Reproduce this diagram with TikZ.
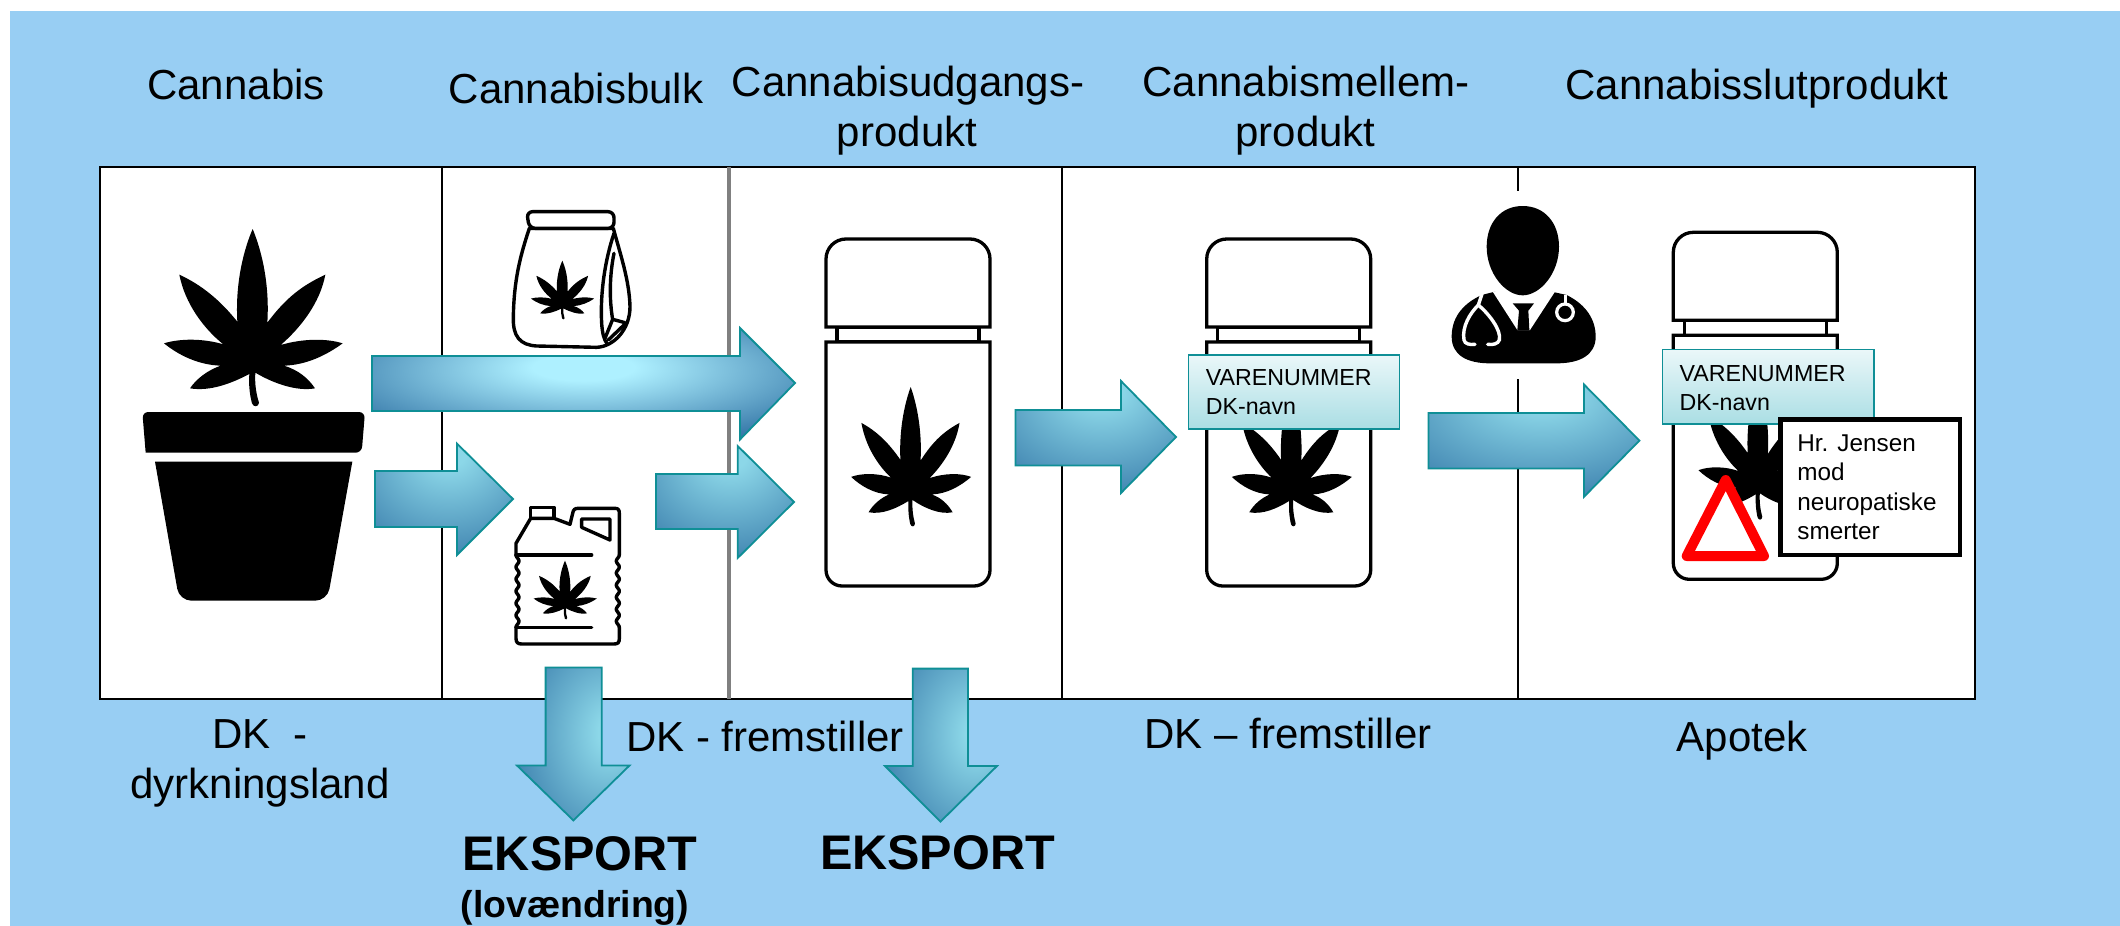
\documentclass[tikz,border=0pt]{standalone}
\usepackage{fontspec}
\setmainfont{Liberation Sans}
\definecolor{bgblue}{RGB}{152,206,243}
\definecolor{edgeteal}{RGB}{15,143,150}
\definecolor{glowdark}{RGB}{42,108,160}
\definecolor{glowlight}{RGB}{174,240,255}
\definecolor{glowmid}{RGB}{140,215,232}
\definecolor{labeltop}{RGB}{234,247,249}
\definecolor{labelbot}{RGB}{170,222,228}
\pgfdeclareradialshading{glowA}{\pgfpoint{0bp}{8bp}}{color(0bp)=(glowlight);color(6bp)=(glowlight);color(36bp)=(glowdark);color(80bp)=(glowdark)}
\pgfdeclareradialshading{glowB}{\pgfpoint{2bp}{22bp}}{color(0bp)=(glowmid);color(6bp)=(glowmid);color(50bp)=(glowdark);color(100bp)=(glowdark)}
\pgfdeclareradialshading{glowC}{\pgfpoint{18bp}{4bp}}{color(0bp)=(glowmid);color(6bp)=(glowmid);color(48bp)=(glowdark);color(100bp)=(glowdark)}
\tikzset{
  x=0.5pt,y=-0.5pt,
  headtext/.style={anchor=base,inner sep=0pt,align=center,font=\fontsize{21pt}{25pt}\selectfont},
  exporttext/.style={anchor=base,inner sep=0pt,font=\fontsize{24.3pt}{29pt}\selectfont\bfseries},
  labelbox/.style={draw=edgeteal,line width=0.6pt,top color=labeltop,bottom color=labelbot},
  smalltext/.style={anchor=base west,inner sep=0pt},
  blockarrow/.style={draw=edgeteal,line width=0.9pt,shade},
  bottleline/.style={draw=black,line width=1.65pt,fill=white},
  inkline/.style={draw=black,line width=1.7pt,line join=round,line cap=round},
  leaf/.pic={
    \begin{scope}[shift={(-458,-440)}]
    \fill[black] (458,87) .. controls (480,140) and (510,240) .. (502,368)
      .. controls (560,290) and (610,255) .. (676,224)
      .. controls (660,310) and (600,385) .. (542,435)
      .. controls (610,415) and (680,415) .. (728,430)
      .. controls (680,465) and (620,495) .. (552,497)
      .. controls (595,510) and (625,535) .. (645,565)
      .. controls (590,575) and (520,550) .. (466,518)
      .. controls (464,550) and (468,580) .. (477,608)
      .. controls (476,622) and (460,622) .. (456,610)
      .. controls (448,580) and (446,550) .. (448,522)
      .. controls (395,550) and (330,575) .. (270,565)
      .. controls (290,535) and (325,510) .. (362,497)
      .. controls (295,495) and (235,465) .. (192,430)
      .. controls (240,415) and (310,415) .. (370,433)
      .. controls (310,385) and (255,310) .. (238,224)
      .. controls (305,255) and (360,300) .. (412,365)
      .. controls (405,240) and (435,140) .. (458,87) -- cycle;
    \end{scope}
  },
  bottle/.pic={
    \path[bottleline] (11,88) rectangle (153,103);
    \path[bottleline] (0,103) [rounded corners=8pt] -- (0,347) -- (164,347) [sharp corners] -- (164,103) -- cycle;
    \path[bottleline] (0,88) [rounded corners=10pt] -- (0,0) -- (164,0) [sharp corners] -- (164,88) -- cycle;
  }
}
\begin{document}
\begin{tikzpicture}
\useasboundingbox (0,0) rectangle (2120,926);
\fill[white] (0,0) rectangle (2120,926);
\fill[bgblue] (10,11) rectangle (2120,926);

% frame
\path[draw=black,fill=white,line width=1.25pt] (100,167) rectangle (1975,699);
\draw[black,line width=1pt] (441.5,167) -- (441.5,699);
\draw[black!50,line width=1.8pt] (729,167) -- (729,699);
\draw[black,line width=1pt] (1062,167) -- (1062,699);
\draw[black,line width=1pt] (1518,167) -- (1518,191);
\draw[black,line width=1pt] (1518,379) -- (1518,699);

% pot with plant
\begin{scope}[shift={(100,200)},scale=1/3]
  \pic[transform shape] at (458,440) {leaf};
  \fill[black,rounded corners=3pt] (137,758) -- (127,636) -- (795,636) -- (785,758) [sharp corners] -- cycle;
  \fill[black] (165,785) [rounded corners=6pt] -- (238,1202) -- (682,1202) [sharp corners] -- (757,785) -- cycle;
\end{scope}

% bag
\begin{scope}[shift={(490,190)},scale=1/3]
  \path[inkline,fill=white] (118,115) .. controls (90,200) and (72,270) .. (70,380)
    .. controls (68,440) and (90,465) .. (140,468)
    -- (320,472) .. controls (370,470) and (420,420) .. (420,350)
    .. controls (418,270) and (390,190) .. (370,115) -- cycle;
  \path[inkline,fill=white,rounded corners=3pt] (110,65) -- (372,65) -- (372,115) -- (118,115) -- cycle;
  \draw[inkline] (372,130) .. controls (345,210) and (330,310) .. (335,400) .. controls (337,430) and (342,450) .. (352,462);
  \draw[inkline] (372,190) .. controls (358,260) and (358,330) .. (368,388) -- (405,398);
  \draw[inkline] (368,388) -- (345,445);
  \draw[inkline] (402,405) -- (355,450);
  \pic[transform shape,xscale=.354,yscale=.331] at (217,329) {leaf};
\end{scope}

% jerrycan
\begin{scope}[shift={(490,190)},scale=1/3]
  \draw[inkline] (122,985) -- (122,952) -- (192,952) -- (192,985);
  \draw[inkline] (78,1095) -- (78,1060) -- (122,985) -- (192,985) -- (240,1003) -- (248,970) .. controls (250,958) and (255,955) .. (265,955)
    -- (375,955) .. controls (385,955) and (388,960) .. (388,970) -- (388,1095);
  \draw[inkline] plot[domain=0:217,samples=70] ({78+9*sin(\x*1.66*3)^2},{1095+\x});
  \draw[inkline] plot[domain=0:217,samples=70] ({388-9*sin(\x*1.66*3)^2},{1095+\x});
  \draw[inkline] (78,1312) -- (78,1345) .. controls (78,1358) and (84,1362) .. (95,1362) -- (372,1362) .. controls (384,1362) and (388,1358) .. (388,1345) -- (388,1312);
  \draw[inkline] (78,1095) -- (305,1095);
  \draw[inkline] (78,1312) -- (305,1312);
  \draw[inkline] (275,987) -- (360,987) -- (360,1050) -- (275,1012) -- cycle;
  \pic[transform shape,xscale=.354,yscale=.331] at (225,1229) {leaf};
\end{scope}

% doctor
\begin{scope}[shift={(1420,190)},scale=1/3]
  \fill[black] (185,315) .. controls (120,345) and (95,390) .. (95,440)
    .. controls (95,495) and (140,520) .. (210,520) -- (410,520)
    .. controls (480,520) and (527,495) .. (527,440)
    .. controls (527,390) and (500,345) .. (440,315) -- (395,305) -- (225,305) -- cycle;
  \fill[white] (218,305) -- (292,420) -- (330,420) -- (405,305) -- (310,290) -- cycle;
  \fill[black] (278,340) -- (342,340) -- (325,362) -- (328,420) -- (292,420) -- (297,362) -- cycle;
  \fill[black] (308,48) .. controls (375,48) and (417,100) .. (417,170)
    .. controls (417,250) and (360,316) .. (308,316)
    .. controls (256,316) and (200,250) .. (200,170)
    .. controls (200,100) and (241,48) .. (308,48) -- cycle;
  \draw[white,line width=1.7pt,line cap=round] (186,312) -- (175,345)
    .. controls (150,370) and (125,410) .. (132,450) .. controls (134,462) and (150,465) .. (165,463);
  \draw[white,line width=1.7pt,line cap=round] (175,345)
    .. controls (205,370) and (245,420) .. (238,450) .. controls (234,462) and (218,465) .. (203,463);
  \draw[white,line width=1.6pt] (435,367) circle[radius=25];
  \draw[white,line width=1.7pt] (437,342) -- (437,315);
\end{scope}

% bottles
\pic at (826,239) {bottle};
\pic at (1206.7,239) {bottle};
\pic at (1673.3,232.3) {bottle};
\pic[xscale=.224,yscale=.262] at (910.7,479.5) {leaf};
\pic[xscale=.224,yscale=.262] at (1291.4,479.5) {leaf};
\pic[xscale=.224,yscale=.262] at (1758,472.8) {leaf};

% block arrows
\path[blockarrow,shading=glowA] (372,356) -- (740,356) -- (740,328) -- (795,383) -- (740,439.5) -- (740,411) -- (372,411) -- cycle;
\path[blockarrow,shading=glowB] (375,471) -- (457,471) -- (457,443.6) -- (513,499) -- (457,555) -- (457,527) -- (375,527) -- cycle;
\path[blockarrow,shading=glowB] (656,474) -- (737.7,474) -- (737.7,446) -- (794,502) -- (737.7,558) -- (737.7,529) -- (656,529) -- cycle;
\path[blockarrow,shading=glowB] (1015.5,410) -- (1121,410) -- (1121,381) -- (1176,437) -- (1121,493) -- (1121,465.5) -- (1015.5,465.5) -- cycle;
\path[blockarrow,shading=glowB] (1428.5,413) -- (1584,413) -- (1584,384.5) -- (1639.4,440.6) -- (1584,496.8) -- (1584,468.4) -- (1428.5,468.4) -- cycle;
\path[blockarrow,shading=glowC] (545.6,667.5) -- (601.8,667.5) -- (601.8,765.5) -- (629.5,765.5) -- (573.4,820.4) -- (517,765.5) -- (545.6,765.5) -- cycle;
\path[blockarrow,shading=glowC] (912.8,668.6) -- (968,668.6) -- (968,766) -- (997,766) -- (940.5,821.6) -- (885,766) -- (912.8,766) -- cycle;

% label boxes
\path[labelbox] (1188.5,355) rectangle (1399.4,429);
\node[smalltext,font=\fontsize{11.6pt}{14.5pt}\selectfont] (varenr1) at (1205.4,385.7) {VARENUMMER};
\node[smalltext,font=\fontsize{11.6pt}{14.5pt}\selectfont] (dknavn1) at (1205.4,414.6) {DK-navn};
\path[labelbox] (1662.4,349.7) rectangle (1874,424);
\node[smalltext,font=\fontsize{11.6pt}{14.5pt}\selectfont] (varenr2) at (1679.3,381) {VARENUMMER};
\node[smalltext,font=\fontsize{11.6pt}{14.5pt}\selectfont] (dknavn2) at (1679.3,410) {DK-navn};

% warning triangle and patient label
\draw[red,line width=5pt,line join=round,fill=white] (1686.7,556) -- (1725.7,480) -- (1764,556) -- cycle;
\path[draw=black,fill=white,line width=2.4pt] (1780.5,419.5) rectangle (1960,555);
\node[smalltext,font=\fontsize{12.15pt}{14.5pt}\selectfont] (pt1) at (1797,451.7) {Hr. Jensen};
\node[smalltext,font=\fontsize{12.15pt}{14.5pt}\selectfont] (pt2) at (1797,480.5) {mod};
\node[smalltext,font=\fontsize{12.15pt}{14.5pt}\selectfont] (pt3) at (1797,510) {neuropatiske};
\node[smalltext,font=\fontsize{12.15pt}{14.5pt}\selectfont] (pt4) at (1797,539) {smerter};

% headings
\node[headtext] (h1) at (236,99) {Cannabis};
\node[headtext] (h2) at (576,103) {Cannabisbulk};
\node[headtext] (h3a) at (908,96) {Cannabisudgangs-};
\node[headtext] (h3b) at (907,146.5) {produkt};
\node[headtext] (h4a) at (1306,96) {Cannabismellem-};
\node[headtext] (h4b) at (1305.5,146.5) {produkt};
\node[headtext] (h5) at (1757,99) {Cannabisslutprodukt};

% bottom labels
\node[headtext] (b1a) at (260,748) {DK\ \ -};
\node[headtext] (b1b) at (260,798.6) {dyrkningsland};
\node[headtext] (b2) at (765,751) {DK - fremstiller};
\node[headtext] (b3) at (1288,748) {DK – fremstiller};
\node[headtext] (b4) at (1742,751) {Apotek};
\node[exporttext] (e1) at (580,870.6) {EKSPORT};
\node[anchor=base,inner sep=0pt,font=\fontsize{18.7pt}{22pt}\selectfont\bfseries] (e1b) at (575,917) {(lovændring)};
\node[exporttext] (e2) at (937.5,869.5) {EKSPORT};
\end{tikzpicture}
\end{document}
